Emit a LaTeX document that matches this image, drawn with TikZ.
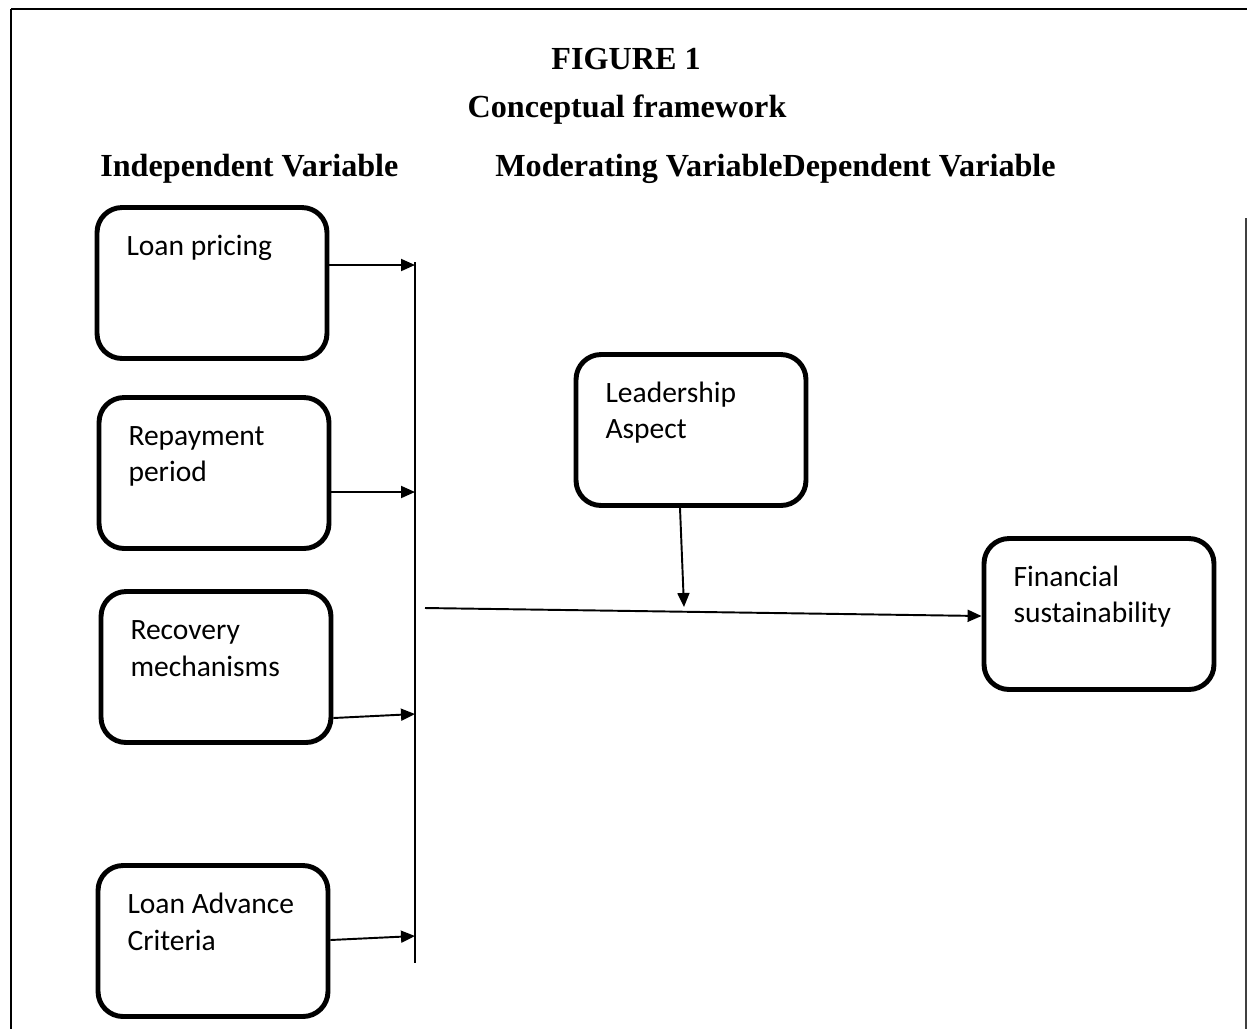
\documentclass[tikz,border=0pt]{standalone}
\usepackage{fontspec}
\setmainfont{Liberation Serif}
\newfontfamily\boxfont{Carlito}
\usepackage{tikz}
\usetikzlibrary{arrows.meta,positioning,calc}

\newcommand{\vartext}[1]{\parbox[c][2.15cm][t]{3.42cm}{\raggedright\strut #1}}

\begin{document}
\begin{tikzpicture}[x=0.02cm,y=-0.02cm,
    varbox/.style={draw,line width=2.8pt,rounded corners=0.5cm,minimum width=4.6cm,
      minimum height=3.02cm,inner xsep=0.59cm,inner ysep=0pt,
      font=\boxfont\fontsize{16.8}{21}\selectfont},
    head/.style={font=\bfseries\fontsize{18.3}{22}\selectfont,inner sep=0pt},
    arr/.style={line width=1.1pt,-{Triangle[length=0.28cm,width=0.24cm]}}]
  \useasboundingbox (0,0) rectangle (1247,1029);
  % frame
  \draw[line width=1.6pt] (11,9)--(1247,9);
  \draw[line width=1.1pt] (11,9)--(11,1029);
  \draw[line width=0.9pt,black!75] (1246,218)--(1246,1029);
  % headings
  \node[head] (fig) at (626,59) {FIGURE 1};
  \node[head] (concept) at (627,110) {Conceptual framework};
  \node[head,anchor=west] (indep) at (100,169) {Independent Variable};
  \node[head,anchor=west] (moddep) at (495,169) {Moderating VariableDependent Variable};
  % variables
  \node[varbox] (loanprice) at (212,283) {\vartext{Loan pricing}};
  \node[varbox] (repay) at (214,473) {\vartext{Repayment period}};
  \node[varbox] (recovery) at (216,667) {\vartext{Recovery mechanisms}};
  \node[varbox] (advance) at (213,941) {\vartext{Loan Advance Criteria}};
  \node[varbox] (leader) at (691,430) {\vartext{Leadership Aspect}};
  \node[varbox] (finsust) at (1099,614) {\vartext{Financial sustainability}};
  % collecting bar
  \coordinate (bartop) at (415,262);
  \coordinate (barbot) at (415,963);
  \draw[line width=1.1pt] (bartop)--(barbot);
  \coordinate (b1) at (415,265);
  \coordinate (b2) at (415,492);
  \coordinate (b3) at (415,714);
  \coordinate (b4) at (415,936);
  \draw[arr] (loanprice.east |- b1)--(b1);
  \draw[arr] (repay.east |- b2)--(b2);
  \draw[arr] ([shift={(0,51)}]recovery.east)--(b3);
  \draw[arr] ([shift={(0,-1)}]advance.east)--(b4);
  % main path
  \coordinate (m0) at (425,608);
  \draw[arr] (m0)--([shift={(0,2)}]finsust.west);
  \coordinate (m1) at (684,607);
  \draw[arr] ([shift={(-11,0)}]leader.south)--(m1);
\end{tikzpicture}
\end{document}
